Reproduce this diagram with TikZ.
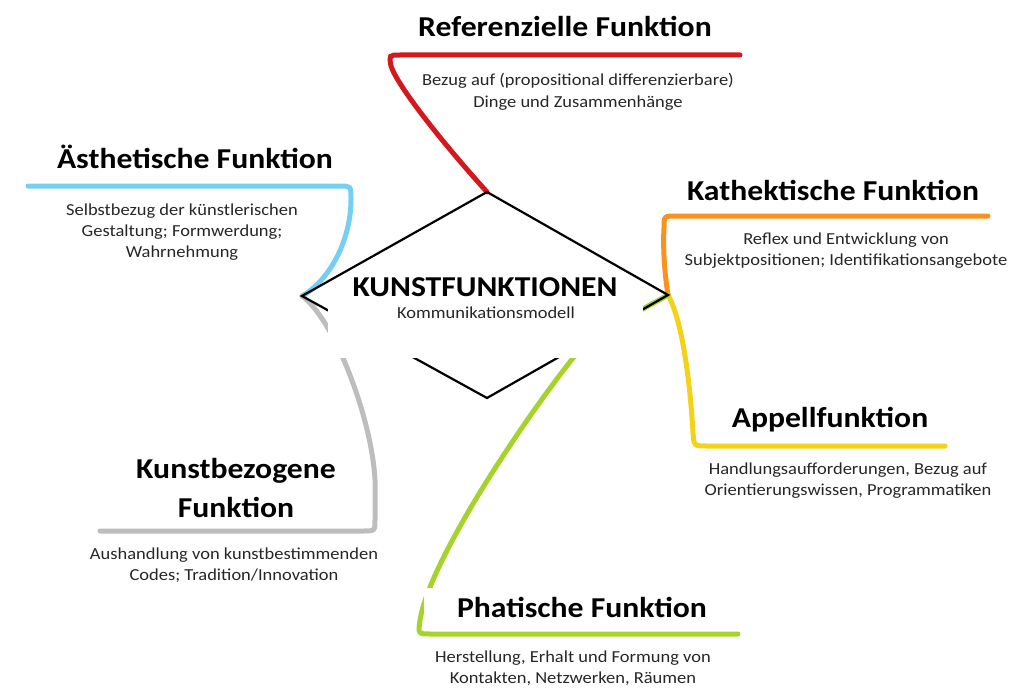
\documentclass[tikz,border=0pt]{standalone}
\usepackage{fontspec}
\setmainfont[FakeStretch=1.1]{Carlito}
\usepackage{xcolor}
\usepackage{tikz}
\usetikzlibrary{positioning, calc}
\definecolor{artred}{HTML}{D3181E}
\definecolor{artblue}{HTML}{74CFF3}
\definecolor{artorange}{HTML}{F7931E}
\definecolor{artyellow}{HTML}{F4D218}
\definecolor{artgray}{HTML}{BDBDBD}
\definecolor{artgreen}{HTML}{A6D32A}

\begin{document}
\begin{tikzpicture}[x=1pt, y=-1pt,
  armline/.style={line width=5pt, line cap=round},
  rhombedge/.style={line width=2.2pt, black, line join=miter},
  heading/.style={font=\bfseries\fontsize{28.8}{39}\selectfont, anchor=base,
                  align=center, inner sep=0pt},
  bodytext/.style={font=\fontsize{16.8}{21}\selectfont, anchor=base,
                   align=center, inner sep=0pt, text=black!85}]
  \useasboundingbox (0,0) rectangle (1011,690);

  %% diamond corners
  \coordinate (dtop)    at (487,192);
  \coordinate (dright)  at (668,295);
  \coordinate (dbottom) at (487,398);
  \coordinate (dleft)   at (302,296);

  %% ends of the underlines
  \coordinate (refend)   at (740,55);
  \coordinate (aestend)  at (28,186);
  \coordinate (kathend)  at (988,216);
  \coordinate (append)   at (945,446);
  \coordinate (kunstend) at (100,531);
  \coordinate (phatend)  at (738,634);

  %% coloured arms
  \draw[armline, artred] (dtop) .. controls (440,140) and (397,85) .. (391,66)
    .. controls (389,55) .. (400,55) -- (refend);
  \draw[armline, artblue] (dleft) .. controls (330,280) and (351,240) .. (351,199)
    .. controls (351,186) .. (340,186) -- (aestend);
  \draw[armline, artgray] (dleft) .. controls (335,320) and (372,420) .. (375,480)
    -- (375,519) .. controls (375,531) .. (363,531) -- (kunstend);
  \draw[armline, artorange] (dright) .. controls (664,270) and (663,245) .. (664,228)
    .. controls (664,216) .. (676,216) -- (kathend);
  \draw[armline, artyellow] (dright) .. controls (682,320) and (690,380) .. (693,433)
    .. controls (694,446) .. (707,446) -- (append);
  \draw[armline, artgreen] (dright) .. controls (640,311) and (600,330) .. (573,358)
    .. controls (520,425) and (430,560) .. (420,620)
    .. controls (418,634) .. (431,634) -- (phatend);

  %% diamond
  \draw[rhombedge] (dtop) -- (dright) -- (dbottom) -- (dleft) -- cycle;

  %% white panels
  \fill[white] (328,300) rectangle (643,358);
  \fill[white] (424,588) rectangle (718,626);

  %% centre
  \node[heading] (kunst) at (485,296) {KUNSTFUNKTIONEN};
  \node[bodytext] (komm) at (486,318) {Kommunikationsmodell};

  %% headings (base = last line)
  \node[heading] (ref)   at (565,37)  {Referenzielle Funktion};
  \node[heading] (aest)  at (195,168) {Ästhetische Funktion};
  \node[heading] (kath)  at (833,200) {Kathektische Funktion};
  \node[heading] (appel) at (830,427) {Appellfunktion};
  \node[heading] (kbez)  at (236,517) {Kunstbezogene\\Funktion};
  \node[heading] (phat)  at (582,617) {Phatische Funktion};

  %% descriptions
  \node[bodytext] (refdesc)   at (578,107)
    {Bezug auf (propositional differenzierbare)\\Dinge und Zusammenhänge};
  \node[bodytext] (aestdesc)  at (182,257)
    {Selbstbezug der künstlerischen\\Gestaltung; Formwerdung;\\Wahrnehmung};
  \node[bodytext] (kathdesc)  at (846,265)
    {Reflex und Entwicklung von\\Subjektpositionen; Identifikationsangebote};
  \node[bodytext] (appeldesc) at (848,495)
    {Handlungsaufforderungen, Bezug auf\\Orientierungswissen, Programmatiken};
  \node[bodytext] (kbezdesc)  at (234,580)
    {Aushandlung von kunstbestimmenden\\Codes; Tradition/Innovation};
  \node[bodytext] (phatdesc)  at (573,683)
    {Herstellung, Erhalt und Formung von\\Kontakten, Netzwerken, Räumen};

\end{tikzpicture}
\end{document}
